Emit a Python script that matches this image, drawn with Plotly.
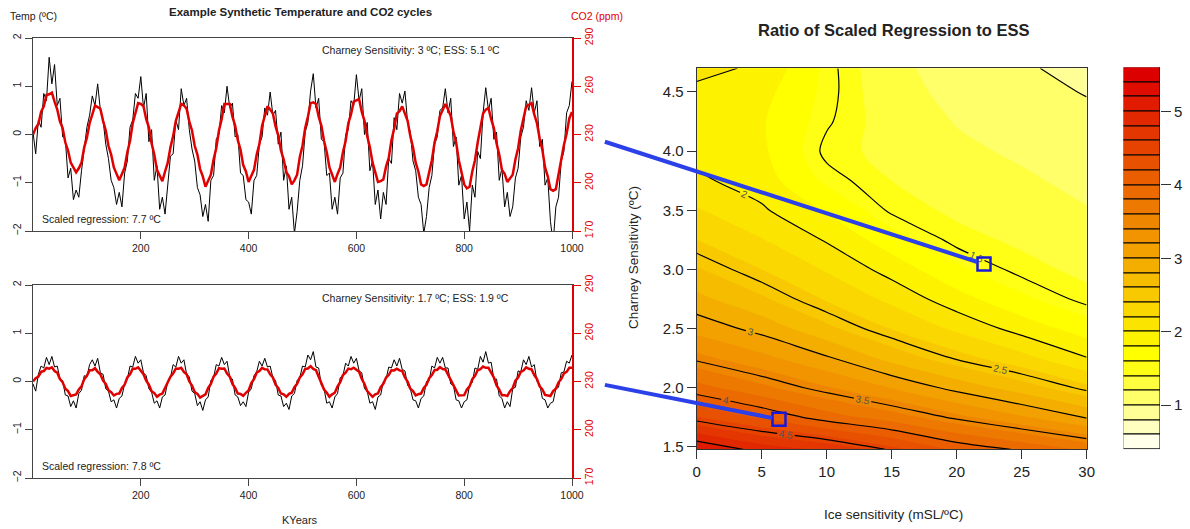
import plotly.graph_objects as go

W, H = 1190, 529
FONT = "Liberation Sans, Arial, Helvetica, sans-serif"
RED = "#e00000"
BLUE_LINE = "#2b40e8"
BLUE_BOX = "#1818d8"

# ---------------- data: synthetic cycles ----------------
kyears = list(range(0, 1001, 5))

temp_top = [
    0.05, -0.4, 0.3, 0.15, 0.85, 0.7, 1.6, 1.05, 1.45, 0.6,
    0.75, -0.05, -0.1, -0.9, -0.7, -1.35, -1.15, -1.3, -0.75, -0.35,
    0.15, 0.4, 0.8, 0.6, 1.05, 0.5, 0.3, -0.2, -0.5, -0.95,
    -1.1, -1.45, -1.2, -1.5, -0.8, -0.55, 0.15, 0.3, 0.85, 0.75,
    1.2, 0.55, 0.85, -0.15, 0.1, -0.95, -0.65, -1.55, -1.3, -1.65,
    -1.0, -0.45, -0.4, 0.3, 0.1, 0.95, 0.6, 0.75, 0.1, -0.3,
    -0.55, -1.1, -1.25, -1.7, -1.45, -1.8, -0.95, -0.85, -0.1, 0.0,
    0.6, 0.45, 1.0, 0.55, 0.65, -0.05, 0.0, -0.8, -0.85, -1.35,
    -1.4, -1.65, -0.95, -0.85, -0.2, -0.05, 0.55, 0.4, 0.88, 0.4,
    0.5, -0.2, 0.05, -0.95, -0.65, -1.55, -1.3, -2.05, -1.6, -0.95,
    -0.65, 0.05, 0.25, 0.9, 1.26, 0.55, 0.75, -0.1, -0.15, -0.85,
    -0.8, -1.55, -1.3, -1.65, -0.9, -0.8, 0.0, 0.1, 0.7, 0.6,
    1.24, 0.7, 0.95, 0.0, 0.25, -0.75, -0.55, -1.45, -1.15, -1.75,
    -1.2, -1.45, -0.5, -0.6, 0.35, 0.1, 0.85, 0.65, 0.9, 0.25,
    0.05, -0.55, -0.75, -1.3, -1.45, -2.05, -1.7, -1.1, -0.85, -0.2,
    -0.05, 0.5, 0.55, 0.95, 0.45, 0.75, -0.25, -0.05, -1.05, -0.85,
    -1.75, -1.4, -2.0, -1.05, -1.3, -0.35, -0.5, 0.45, 0.97, 0.5,
    0.75, -0.1, 0.05, -0.95, -0.7, -1.5, -1.2, -1.7, -1.5, -0.9,
    -0.7, -0.05, 0.15, 0.7, 0.5, 0.97, 0.45, 0.7, -0.25, -0.1,
    -1.05, -0.9, -1.8, -2.25, -1.5, -1.3, -0.55, -0.35, 0.45, 0.6,
    1.1,
]

co2_top = [
    230, 234, 236.5, 244, 247.5, 254.5, 255, 256, 250.5, 245.5,
    238, 234, 225, 220, 212.5, 209.5, 206.5, 209, 212.5, 222,
    228, 237, 242.5, 248, 247, 246, 238.5, 232.5, 223, 217.5,
    209.5, 205.5, 201.5, 205.5, 209.5, 219, 226, 237, 242.5, 249.5,
    249, 247.5, 239.5, 234.5, 224.5, 217.5, 208, 204.5, 201, 207,
    212.5, 222, 229, 238.5, 243.5, 249, 248, 246, 238, 232.5,
    223, 217.5, 208.5, 204, 197.5, 201, 205, 214.5, 221.5, 232.5,
    239.5, 249, 249, 249, 241, 235.5, 226.5, 220.5, 211, 207,
    200.5, 204, 208, 217.5, 224, 235.5, 241, 247.5, 245.5, 243,
    235, 229.5, 220, 214.5, 206.5, 204, 199, 201.5, 205, 216,
    223, 234, 241, 249.5, 250, 249, 241, 235.5, 226, 219,
    209.5, 205.5, 200.5, 205.5, 209.5, 219, 226, 237, 242.5, 250.5,
    251.5, 252, 244, 238.5, 229, 222, 212.5, 207, 200.5, 201,
    202, 210, 215.5, 226.5, 233.5, 243, 244.5, 247.5, 242.5, 238.5,
    229, 222, 212.5, 207, 199, 198, 199, 207, 214, 225,
    232, 241.5, 245.5, 249, 245.5, 241.5, 232, 225, 214, 207,
    199, 196.5, 197.5, 207, 214, 225, 233.5, 243, 245.5, 246.5,
    239.5, 234, 224.5, 217.5, 208, 205.5, 200.5, 202.5, 205, 214.5,
    221.5, 232.5, 239.5, 247.5, 248.5, 249.5, 242.5, 237, 227.5, 220.5,
    209.5, 204, 196, 195, 196, 205.5, 212.5, 223.5, 230.5, 240,
    244,
]

temp_bot = [
    -0.05, -0.2, 0.15, 0.32, 0.28, 0.5, 0.35, 0.52, 0.3, 0.32,
    0.05, 0.02, -0.28, -0.3, -0.52, -0.4, -0.55, -0.25, -0.18, 0.12,
    0.1, 0.35, 0.45, 0.32, 0.48, 0.18, 0.15, -0.15, -0.2, -0.42,
    -0.38, -0.55, -0.35, -0.3, -0.05, 0.05, 0.32, 0.3, 0.52, 0.38,
    0.45, 0.18, 0.12, -0.15, -0.22, -0.45, -0.4, -0.55, -0.32, -0.28,
    0.0, 0.08, 0.35, 0.3, 0.52, 0.38, 0.45, 0.15, 0.1, -0.2,
    -0.25, -0.5, -0.42, -0.6, -0.38, -0.32, 0.02, 0.08, 0.35, 0.32,
    0.5, 0.35, 0.42, 0.1, 0.05, -0.28, -0.32, -0.5, -0.42, -0.52,
    -0.22, -0.15, 0.12, 0.2, 0.42, 0.32, 0.48, 0.3, 0.32, 0.08,
    0.02, -0.28, -0.3, -0.52, -0.45, -0.58, -0.3, -0.25, 0.02, 0.08,
    0.32, 0.3, 0.55, 0.45, 0.62, 0.3, 0.28, -0.08, -0.15, -0.45,
    -0.42, -0.55, -0.32, -0.25, 0.08, 0.12, 0.38, 0.32, 0.52, 0.38,
    0.48, 0.22, 0.18, -0.15, -0.2, -0.45, -0.42, -0.58, -0.32, -0.28,
    0.0, 0.05, 0.3, 0.28, 0.45, 0.32, 0.48, 0.25, 0.22, -0.08,
    -0.15, -0.38, -0.4, -0.55, -0.35, -0.3, 0.0, 0.02, 0.32, 0.28,
    0.5, 0.38, 0.5, 0.28, 0.28, -0.05, -0.08, -0.38, -0.4, -0.55,
    -0.42, -0.38, -0.08, -0.02, 0.28, 0.25, 0.52, 0.4, 0.62, 0.38,
    0.4, 0.05, 0.05, -0.3, -0.35, -0.55, -0.42, -0.52, -0.15, -0.12,
    0.22, 0.2, 0.45, 0.35, 0.52, 0.3, 0.35, 0.0, -0.05, -0.35,
    -0.38, -0.55, -0.45, -0.42, -0.15, -0.12, 0.18, 0.2, 0.42, 0.38,
    0.55,
]

co2_bot = [
    230, 232, 233, 236, 236.5, 238.5, 238, 238.8, 236.5, 235.5,
    231.5, 229.5, 225.5, 224, 221, 221.7, 222, 225, 227, 231.5,
    233.5, 237, 237, 238.3, 236, 234.5, 230.5, 228.5, 224.5, 223.3,
    221.3, 222.3, 222.5, 226, 228, 232.5, 234.5, 238, 237.9, 238.8,
    236.3, 234.5, 230.5, 228, 224, 222.8, 220.5, 221.8, 222.5, 226,
    228.5, 233, 235, 238, 237.9, 238.5, 236, 234.5, 230, 227.5,
    223.5, 222.3, 220, 221.1, 222, 226, 228.5, 233, 235, 238.3,
    237.9, 238.1, 235, 233, 228.5, 226, 222.5, 222.3, 221.1, 223,
    224.5, 229, 231.5, 235.5, 236.5, 238.5, 237.6, 237.5, 234.5, 232.5,
    228, 226, 222.5, 222, 220.5, 222.3, 223, 226.5, 228.5, 232.5,
    234.5, 237.8, 238.1, 239.5, 237.8, 237, 233, 230, 225, 223,
    220.5, 222, 223, 227, 229.5, 234, 235.5, 238, 237.6, 238.6,
    237, 236, 231.5, 228.5, 224, 222.5, 220.5, 222, 222.5, 226.5,
    228.5, 232.5, 234, 237, 236.9, 238, 236.9, 236.5, 232.5, 230,
    225.5, 224, 221.3, 222.1, 222.5, 226, 228, 232, 234, 237,
    237.3, 238.9, 237.8, 237.5, 234, 231.5, 227, 224.5, 221.3, 221.5,
    221.5, 225, 227, 231.5, 233.5, 237, 237.7, 239.3, 238.5, 238.5,
    235, 232.5, 227.5, 225, 221.5, 221.5, 221, 224, 226, 230.5,
    232.5, 236, 236.8, 238.8, 237.9, 237.5, 234, 231.5, 227, 225,
    221.7, 221.5, 221, 224, 225.5, 229.5, 231.5, 235, 236, 238.5,
    238.5,
]

# ---------------- data: ratio surface ----------------
ice_sens = [0, 5, 10, 15, 20, 25, 30]
charney_sens = [1.48, 1.75, 2.0, 2.25, 2.5, 2.75, 3.0, 3.25, 3.5, 3.75, 4.0, 4.25, 4.5, 4.7]
ratio = [
    [5.20, 4.92, 4.76, 4.47, 4.15, 3.97, 3.76],
    [4.41, 4.17, 3.90, 3.70, 3.46, 3.23, 2.98],
    [3.88, 3.65, 3.42, 3.19, 2.93, 2.70, 2.45],
    [3.46, 3.26, 3.03, 2.73, 2.48, 2.27, 2.01],
    [3.13, 2.93, 2.65, 2.39, 2.16, 1.92, 1.70],
    [2.86, 2.63, 2.38, 2.15, 1.88, 1.64, 1.45],
    [2.62, 2.40, 2.18, 1.92, 1.64, 1.45, 1.36],
    [2.40, 2.21, 1.98, 1.69, 1.45, 1.37, 1.28],
    [2.22, 2.03, 1.78, 1.47, 1.37, 1.30, 1.21],
    [2.04, 1.90, 1.56, 1.40, 1.30, 1.23, 1.15],
    [1.93, 1.84, 1.46, 1.35, 1.24, 1.17, 1.10],
    [1.90, 1.82, 1.52, 1.32, 1.19, 1.11, 1.05],
    [1.96, 1.87, 1.55, 1.28, 1.14, 1.06, 0.99],
    [2.05, 1.97, 1.55, 1.26, 1.10, 1.02, 0.95],
]

# highlighted example points (ice sensitivity, Charney sensitivity)
example_ice = [22.1, 6.33]
example_charney = [3.045, 1.733]

fill_start, fill_end, fill_step = 0.4, 5.6, 0.2
line_start, line_end, line_step = 1.0, 5.0, 0.5
colorbar_ticks = [1, 2, 3, 4, 5]


# ---------------- helpers ----------------
def heat_colors(n):
    j = n // 4
    i = n - j
    cols = []
    for k in range(i):
        g = 255 * k / (i - 1)
        r = 255 - 34 * (1 - g / 255)
        cols.append((r, g, 0))
    for m in range(j):
        s = 1 - 1 / (2 * j) + m * ((1 / j - 1) / (j - 1))
        cols.append((255, 255, 255 * (1 - s)))
    return ["rgb(%d,%d,%d)" % (round(r), round(g), round(b)) for r, g, b in cols]


n_levels = int(round((fill_end - fill_start) / fill_step)) + 1
levels = [round(fill_start + fill_step * i, 6) for i in range(n_levels)]
palette = heat_colors(n_levels - 1)[::-1]

cscale = [[0, palette[0]]]
for k, c in enumerate(palette):
    cscale.append([(k + 0.75) / n_levels, c])
    cscale.append([(k + 1.75) / n_levels, c])
cscale.append([1, palette[-1]])


def px_x(p):
    return p / W


def px_y(p):
    return 1 - p / H


LX = [px_x(33), px_x(572)]
TOPY = [px_y(231), px_y(38)]
BOTY = [px_y(478), px_y(285)]
CX = [px_x(696.7), px_x(1086.7)]
CY = [px_y(449.3), px_y(68.3)]
CBX = [px_x(1123.5), px_x(1160)]
CBY = [px_y(449.3), px_y(67.3)]

KY_RANGE = [0, 1000]
T_RANGE = [-2, 2]
CO2_RANGE = [170, 290]
ICE_RANGE = [0, 30]
CH_RANGE = [1.48, 4.70]
CB_RANGE = [fill_start, fill_end]


def to_paper(x, y, xdom, xr, ydom, yr):
    return (xdom[0] + (x - xr[0]) / (xr[1] - xr[0]) * (xdom[1] - xdom[0]),
            ydom[0] + (y - yr[0]) / (yr[1] - yr[0]) * (ydom[1] - ydom[0]))


fig = go.Figure()

# left: time series
fig.add_trace(go.Scatter(x=kyears, y=temp_top, mode="lines", line=dict(color="black", width=1),
                         xaxis="x", yaxis="y", showlegend=False, hoverinfo="skip"))
fig.add_trace(go.Scatter(x=kyears, y=co2_top, mode="lines", line=dict(color=RED, width=2.5),
                         xaxis="x", yaxis="y2", showlegend=False, hoverinfo="skip"))
fig.add_trace(go.Scatter(x=kyears, y=temp_bot, mode="lines", line=dict(color="black", width=1),
                         xaxis="x2", yaxis="y3", showlegend=False, hoverinfo="skip"))
fig.add_trace(go.Scatter(x=kyears, y=co2_bot, mode="lines", line=dict(color=RED, width=2.5),
                         xaxis="x2", yaxis="y4", showlegend=False, hoverinfo="skip"))

# right: filled contour
fig.add_trace(go.Contour(x=ice_sens, y=charney_sens, z=ratio, xaxis="x3", yaxis="y5",
                         autocontour=False,
                         contours=dict(start=fill_start, end=fill_end, size=fill_step,
                                       coloring="fill", showlines=False),
                         colorscale=cscale, showscale=False, line=dict(width=0),
                         hoverinfo="skip"))
fig.add_trace(go.Contour(x=ice_sens, y=charney_sens, z=ratio, xaxis="x3", yaxis="y5",
                         autocontour=False,
                         contours=dict(start=line_start, end=line_end, size=line_step,
                                       coloring="none", showlines=True, showlabels=True,
                                       labelfont=dict(size=10, color="#555555", family=FONT)),
                         line=dict(color="black", width=1.2), showscale=False,
                         hoverinfo="skip"))
fig.add_trace(go.Scatter(x=example_ice, y=example_charney, mode="markers",
                         marker=dict(symbol="square-open", size=13, color=BLUE_BOX,
                                     line=dict(width=2.5, color=BLUE_BOX)),
                         xaxis="x3", yaxis="y5", showlegend=False, hoverinfo="skip"))

# colour key
fig.add_trace(go.Bar(x=[0] * (n_levels - 1),
                     y=[levels[i + 1] - levels[i] for i in range(n_levels - 1)],
                     base=levels[:-1], width=[1] * (n_levels - 1),
                     marker=dict(color=palette, line=dict(color="black", width=1)),
                     xaxis="x4", yaxis="y6", showlegend=False, hoverinfo="skip"))

left_common = dict(showgrid=False, zeroline=False, showline=True, linecolor="#444", linewidth=1,
                   ticks="outside", ticklen=7, tickwidth=1, tickcolor="#444",
                   tickfont=dict(size=10.5, color="#222", family=FONT))
right_common = dict(side="right", range=CO2_RANGE,
                    tickvals=[170, 200, 230, 260, 290], tickangle=-90,
                    showgrid=False, zeroline=False, showline=True, linecolor=RED, linewidth=1.5,
                    ticks="outside", ticklen=7, tickwidth=1.2, tickcolor=RED,
                    tickfont=dict(size=10.5, color=RED, family=FONT))
c_common = dict(showgrid=False, zeroline=False, showline=True, mirror=True, linecolor="#333",
                linewidth=1, ticks="outside", ticklen=9, tickwidth=1, tickcolor="#333",
                tickfont=dict(size=15, color="#222", family=FONT))

layout = dict(
    width=W, height=H, autosize=False,
    margin=dict(l=0, r=0, t=0, b=0),
    paper_bgcolor="white", plot_bgcolor="white",
    template="none",
    font=dict(family=FONT, color="#222"),
    showlegend=False,
    bargap=0,
    xaxis=dict(domain=LX, range=KY_RANGE, anchor="y", tickvals=[200, 400, 600, 800, 1000],
               mirror=True, **left_common),
    yaxis=dict(domain=TOPY, range=T_RANGE, anchor="x", tickvals=[-2, -1, 0, 1, 2],
               tickangle=-90, **left_common),
    yaxis2=dict(anchor="x", overlaying="y", **right_common),
    xaxis2=dict(domain=LX, range=KY_RANGE, anchor="y3", tickvals=[200, 400, 600, 800, 1000],
                mirror=True, **left_common),
    yaxis3=dict(domain=BOTY, range=T_RANGE, anchor="x2", tickvals=[-2, -1, 0, 1, 2],
                tickangle=-90, **left_common),
    yaxis4=dict(anchor="x2", overlaying="y3", **right_common),
    xaxis3=dict(domain=CX, range=ICE_RANGE, anchor="y5", tickvals=[0, 5, 10, 15, 20, 25, 30],
                **c_common),
    yaxis5=dict(domain=CY, range=CH_RANGE, anchor="x3",
                tickvals=[1.5, 2.0, 2.5, 3.0, 3.5, 4.0, 4.5], tickformat=".1f", **c_common),
    xaxis4=dict(domain=CBX, range=[-0.5, 0.5], anchor="y6", visible=False, fixedrange=True),
    yaxis6=dict(domain=CBY, range=CB_RANGE, anchor="x4", side="right", tickvals=colorbar_ticks,
                showgrid=False, zeroline=False, showline=False, ticks="outside", ticklen=10,
                tickcolor="#333", tickfont=dict(size=15, color="#222", family=FONT)),
)


def ann(px, py, text, size, color="#222", xanchor="center", bold=False, angle=0):
    return dict(x=px_x(px), y=px_y(py), xref="paper", yref="paper", showarrow=False,
                text=("<b>%s</b>" % text) if bold else text, xanchor=xanchor, yanchor="middle",
                textangle=angle, font=dict(size=size, color=color, family=FONT))


annotations = [
    ann(300, 12, "Example Synthetic Temperature and CO2 cycles", 11.5, bold=True),
    ann(8, 16, "Temp (ºC)", 10.5, xanchor="left"),
    ann(597, 16, "CO2 (ppm)", 10.5, color=RED),
    ann(320, 50, "Charney Sensitivity: 3 ºC; ESS: 5.1 ºC", 10.5, xanchor="left"),
    ann(40, 219, "Scaled regression: 7.7 ºC", 10.5, xanchor="left"),
    ann(320, 298, "Charney Sensitivity: 1.7 ºC; ESS: 1.9 ºC", 10.5, xanchor="left"),
    ann(40, 466, "Scaled regression: 7.8 ºC", 10.5, xanchor="left"),
    ann(300, 520, "KYears", 11),
    ann(893, 30, "Ratio of Scaled Regression to ESS", 16.5, bold=True),
    ann(893, 514, "Ice sensitivity (mSL/ºC)", 13.5),
    ann(633, 258, "Charney Sensitivity (ºC)", 13.5, angle=-90),
]
layout["annotations"] = annotations

# connector lines from the example panels to the highlighted points
link_ky = 1061
link_temp = [-0.15, -0.07]
panel_ydoms = [TOPY, BOTY]
shapes = []
for i in range(2):
    x0, y0 = to_paper(link_ky, link_temp[i], LX, KY_RANGE, panel_ydoms[i], T_RANGE)
    x1, y1 = to_paper(example_ice[i], example_charney[i], CX, ICE_RANGE, CY, CH_RANGE)
    dxp, dyp = (x1 - x0) * W, (y1 - y0) * H
    length = (dxp ** 2 + dyp ** 2) ** 0.5
    cut = 7.0
    x1c = x1 - dxp / length * cut / W
    y1c = y1 - dyp / length * cut / H
    shapes.append(dict(type="line", xref="paper", yref="paper", x0=x0, y0=y0, x1=x1c, y1=y1c,
                       line=dict(color=BLUE_LINE, width=4)))
layout["shapes"] = shapes

fig.update_layout(**layout)
fig.write_html("out.html", config={"displayModeBar": False},
               post_script="document.body.style.margin='0';document.body.style.overflow='hidden';")
